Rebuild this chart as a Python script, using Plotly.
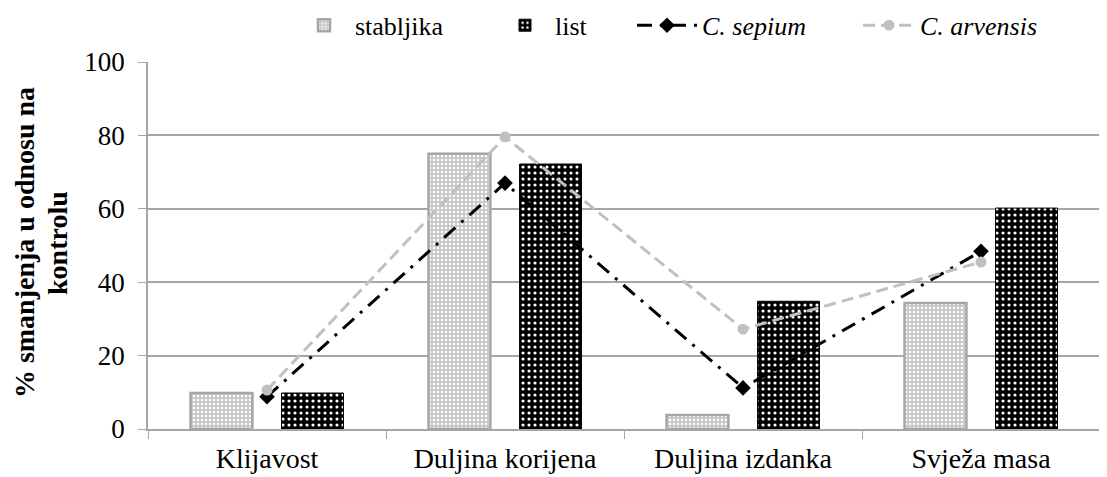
import plotly.graph_objects as go

categories = ["Klijavost", "Duljina korijena", "Duljina izdanka", "Svježa masa"]
stabljika = [9.8, 75, 3.8, 34.3]
list_vals = [9.8, 72.2, 34.8, 60.2]
c_sepium = [8.8, 67, 11.2, 48.4]
c_arvensis = [10.6, 79.6, 27.2, 45.5]
y_title_lines = ["% smanjenja u odnosu na", "kontrolu"]

FONT = "Liberation Serif"

fig = go.Figure()
fig.add_trace(go.Bar(
    x=categories, y=stabljika, name="stabljika", legend="legend",
    marker=dict(color="#d0d0d0", line=dict(color="#a6a6a6", width=2.5),
                pattern=dict(shape=".", fgcolor="#ffffff", bgcolor="#c8c8c8",
                             size=4, solidity=0.3, fillmode="replace")),
))
fig.add_trace(go.Bar(
    x=categories, y=list_vals, name="list", legend="legend2",
    marker=dict(color="#000000", line=dict(color="#000000", width=1),
                pattern=dict(shape=".", fgcolor="#ffffff", bgcolor="#000000",
                             size=6, solidity=0.22, fillmode="replace")),
))
fig.add_trace(go.Scatter(
    x=categories, y=c_sepium, name="<i>C. sepium</i>", mode="lines+markers", legend="legend3",
    line=dict(color="#000000", width=3, dash="15px,8px,3px,8px"),
    marker=dict(symbol="diamond", size=12, color="#000000"),
))
fig.add_trace(go.Scatter(
    x=categories, y=c_arvensis, name="<i>C. arvensis</i>", mode="lines+markers", legend="legend4",
    line=dict(color="#c0c0c0", width=3, dash="12px,6px"),
    marker=dict(symbol="circle", size=11, color="#c0c0c0"),
))

def leg(x, w):
    return dict(orientation="h", x=x, xanchor="left", y=1.1, yanchor="middle",
                font=dict(family=FONT, size=26), itemwidth=w,
                bgcolor="rgba(0,0,0,0)", borderwidth=0)

for i, (line, xp) in enumerate(zip(y_title_lines, [-0.129, -0.0945])):
    fig.add_annotation(text=f"<b>{line}</b>", textangle=-90, xref="paper", yref="paper",
                       x=xp, y=0.507, xanchor="center", yanchor="middle", showarrow=False,
                       font=dict(family=FONT, size=28, color="#000000"))

fig.update_layout(
    width=1099, height=469,
    margin=dict(l=140, r=7, t=54, b=48, autoexpand=False),
    paper_bgcolor="white", plot_bgcolor="white",
    font=dict(family=FONT, size=27, color="#000000"),
    barmode="group", bargap=0.235, bargroupgap=0.32,
    showlegend=True,
    legend=leg(0.1523, 52),
    legend2=leg(0.3645, 50),
    legend3=leg(0.5084, 60),
    legend4=leg(0.7458, 52),
    xaxis=dict(showline=True, linecolor="#a6a6a6", linewidth=1.5,
               ticks="outside", tickson="boundaries", ticklen=8, tickcolor="#a6a6a6",
               ticklabelstandoff=4,
               tickfont=dict(family=FONT, size=28), showgrid=False, automargin=False),
    yaxis=dict(range=[0, 100], dtick=20, showline=True, linecolor="#a6a6a6", linewidth=1.5,
               ticks="outside", ticklen=8, tickcolor="#a6a6a6", ticklabelstandoff=8,
               showgrid=True, gridcolor="#a6a6a6", gridwidth=1.5, automargin=False,
               tickfont=dict(family=FONT, size=27), zeroline=False),
)

fig.write_html("out.html")
